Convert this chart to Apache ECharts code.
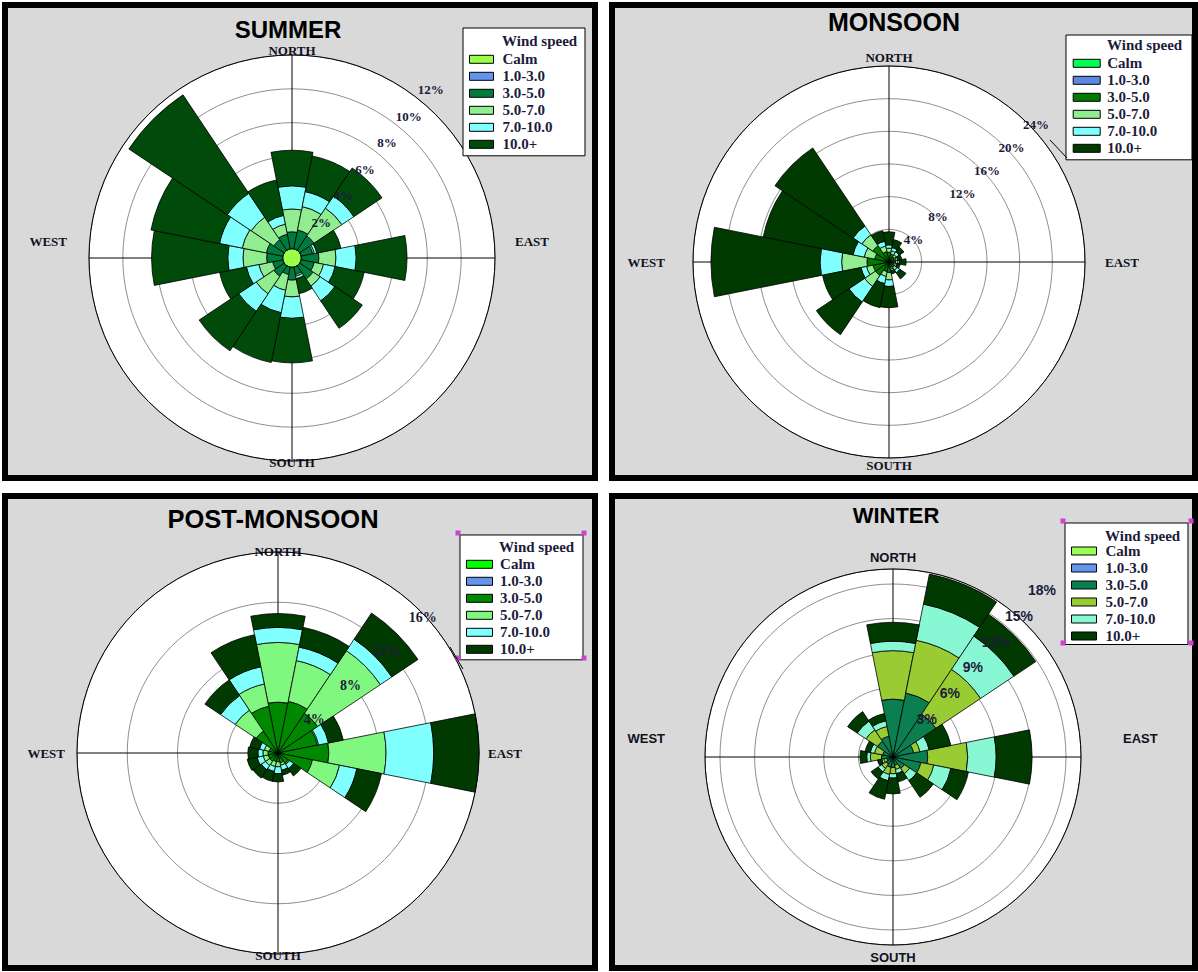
<!DOCTYPE html>
<html>
<head>
<meta charset="utf-8">
<title>Seasonal wind roses</title>
<script src="https://cdn.jsdelivr.net/npm/echarts@6/dist/echarts.min.js"></script>
<style>
  html, body { margin: 0; padding: 0; background: #ffffff; }
  #chart { width: 1198px; height: 972px; }
</style>
</head>
<body>
<div id="chart"></div>
<script>
// ---- categories and labels ----
const directions = ['N', 'NNE', 'NE', 'ENE', 'E', 'ESE', 'SE', 'SSE', 'S', 'SSW', 'SW', 'WSW', 'W', 'WNW', 'NW', 'NNW'];
const compassLabels = ['NORTH', 'EAST', 'SOUTH', 'WEST'];
const speedClasses = ['Calm', '1.0-3.0', '3.0-5.0', '5.0-7.0', '7.0-10.0', '10.0+'];
const seasonTitles = ['SUMMER', 'MONSOON', 'POST-MONSOON', 'WINTER'];
const legendHeading = 'Wind speed';

// ---- frequency of occurrence (%) per direction, N then clockwise ----
const summerCalm = 0.55;
const summer1to3   = [0, 0, 0, 0, 0, 0, 0, 0, 0, 0, 0, 0, 0, 0, 0, 0];
const summer3to5   = [1.00, 1.14, 1.02, 0.70, 1.04, 0.79, 0.95, 0.45, 0.76, 0.45, 0.75, 0.62, 0.95, 1.00, 0.75, 0.88];
const summer5to7   = [1.35, 1.41, 1.98, 0.10, 1.01, 0.56, 0.50, 0.10, 0.99, 0.95, 1.25, 0.83, 1.40, 1.45, 1.60, 0.61];
const summer7to10  = [1.37, 0.90, 0.85, 0.15, 1.20, 0.70, 1.05, 0.15, 1.27, 1.35, 1.25, 0.75, 0.90, 1.37, 1.70, 0.53];
const summer10plus = [2.10, 2.15, 2.00, 1.45, 3.00, 1.75, 1.95, 0.90, 2.63, 3.00, 2.80, 1.61, 4.50, 4.13, 7.00, 2.13];

const monsoonCalm = 0;
const monsoon1to3   = [0, 0, 0, 0, 0, 0, 0, 0, 0, 0, 0, 0, 0, 0, 0, 0];
const monsoon3to5   = [1.2, 1.0, 0.8, 0.7, 0.8, 0.6, 0.8, 0.7, 1.3, 1.2, 2.0, 2.0, 2.7, 1.8, 2.4, 1.3];
const monsoon5to7   = [0.5, 0.4, 0.3, 0.2, 0.3, 0.2, 0.4, 0.2, 0.9, 0.6, 1.6, 0.8, 3.1, 1.3, 1.6, 0.7];
const monsoon7to10  = [0.4, 0.4, 0.4, 0.2, 0.2, 0.2, 0.4, 0.2, 0.8, 0.9, 2.3, 0.7, 2.65, 1.4, 1.3, 0.6];
const monsoon10plus = [1.6, 1.0, 0.7, 0.5, 0.8, 0.4, 0.9, 0.4, 2.6, 3.0, 4.8, 4.8, 13.35, 11.2, 11.5, 1.3];

const postCalm = 0;
const post1to3   = [0, 0, 0, 0, 0, 0, 0, 0, 0, 0, 0, 0, 0, 0, 0, 0];
const post3to5   = [4.05, 4.2, 3.8, 3.2, 4.05, 2.8, 1.0, 0.8, 0.7, 0.7, 0.8, 0.8, 0.8, 0.7, 2.1, 3.8];
const post5to7   = [4.75, 3.3, 6.0, 0.1, 4.55, 2.2, 0.1, 0.2, 0.4, 0.4, 0.4, 0.4, 0.4, 0.4, 2.0, 1.8];
const post7to10  = [1.2, 1.1, 1.1, 0.8, 3.8, 1.4, 0.4, 0.4, 0.55, 0.4, 0.4, 0.5, 0.4, 0.4, 1.4, 1.4];
const post10plus = [1.1, 1.6, 2.5, 1.2, 3.6, 2.0, 0.7, 0.4, 0.65, 0.8, 0.8, 0.8, 0.8, 0.8, 1.5, 2.6];

const winterCalm = 0;
const winter1to3   = [0, 0, 0, 0, 0, 0, 0, 0, 0, 0, 0, 0, 0, 0, 0, 0];
const winter3to5   = [5.02, 5.66, 4.48, 1.83, 3.01, 2.47, 1.19, 0.73, 0.91, 0.91, 0.73, 0.55, 1.00, 0.91, 1.64, 1.83];
const winter5to7   = [4.20, 4.66, 4.66, 0.55, 3.47, 1.14, 0.55, 0.37, 0.55, 0.64, 0.46, 0.27, 0.96, 0.73, 1.19, 0.87];
const winter7to10  = [0.82, 3.20, 3.47, 0.82, 2.47, 1.51, 0.73, 0.37, 0.37, 0.55, 0.37, 0.18, 0.32, 0.37, 0.91, 0.50];
const winter10plus = [1.64, 2.65, 2.28, 1.92, 3.11, 1.55, 1.74, 0.73, 1.37, 1.64, 0.73, 0.37, 0.59, 0.46, 1.00, 0.64];

const seasons = [
  { calm: summerCalm,  classes: [summer1to3, summer3to5, summer5to7, summer7to10, summer10plus] },
  { calm: monsoonCalm, classes: [monsoon1to3, monsoon3to5, monsoon5to7, monsoon7to10, monsoon10plus] },
  { calm: postCalm,    classes: [post1to3, post3to5, post5to7, post7to10, post10plus] },
  { calm: winterCalm,  classes: [winter1to3, winter3to5, winter5to7, winter7to10, winter10plus] }
];

// ---- layout and styling of the four panels ----
const SERIF = '"Liberation Serif", "Times New Roman", serif';
const SANS = '"Liberation Sans", Arial, sans-serif';
const INK = '#1c1c3a';

const looks = [
  { frame: [5, 5, 590, 473], title: { x: 288, y: 17, size: 24 },
    center: [292, 258], radius: 203, max: 12, step: 2,
    tickMax: 12, tickRing: [11.6, 218], tickAngle: 50.5, tickFont: SERIF, tickSize: 13,
    compass: { font: SERIF, size: 13, n: 5, s: 1, e: 20, w: 22, lift: 17 },
    legend: { left: 463, top: 28, pad: [22.8, 32.5, 3, 6], sw: 24, gap: 4, head: [502, 33] },
    colors: ['#99ff44', '#6495ed', '#007a3d', '#90ee90', '#80ffff', '#004a0a'] },
  { frame: [612, 5, 583, 473], title: { x: 894, y: 9, size: 25 },
    center: [889, 262], radius: 196, max: 24, step: 4,
    tickMax: 24, tickRing: [0, 201], tickAngle: 43, tickFont: SERIF, tickSize: 13,
    compass: { font: SERIF, size: 13, n: 9, s: 7, e: 20, w: 28, lift: 0 },
    legend: { left: 1066, top: 35, pad: [19.8, 34.8, 3, 6.7], sw: 27, gap: 2, head: [1107, 37] },
    colors: ['#00ff55', '#5f87e0', '#007a00', '#90ee90', '#80ffff', '#003a00'] },
  { frame: [5, 496, 590, 472], title: { x: 273, y: 506, size: 25.5 },
    center: [278, 753], radius: 201, max: 16, step: 4,
    tickMax: 16, tickRing: [0, 198], tickAngle: 43, tickFont: SERIF, tickSize: 14,
    compass: { font: SERIF, size: 13, n: 1, s: 1, e: 9, w: 12, lift: 0 },
    legend: { left: 460, top: 535, pad: [20.8, 32.9, 2, 6], sw: 26, gap: 2.6, head: [499, 539] },
    colors: ['#00ff00', '#6495ed', '#008800', '#80f880', '#80ffff', '#003a00'] },
  { frame: [612, 496, 583, 472], title: { x: 896, y: 504, size: 22 },
    center: [893, 757], radius: 188, max: 16.3, step: 3,
    tickMax: 18, tickRing: [16, 224], tickAngle: 48.3, tickFont: SANS, tickSize: 14,
    compass: { font: SANS, size: 13, n: 12, s: 12, e: 42, w: 40, lift: 19 },
    legend: { left: 1065, top: 523, pad: [19.5, 32.5, 0, 6], sw: 25, gap: 4, head: [1105, 528] },
    colors: ['#99ff55', '#6495ed', '#0b7f4f', '#99cc33', '#88f7d4', '#003a00'] }
];

const option = {
  animation: false,
  backgroundColor: '#ffffff',
  polar: [], angleAxis: [], radiusAxis: [], series: [], legend: [], title: [], graphic: []
};

const LABEL_MARGIN = -10;
const hiddenParts = {
  axisLine: { show: false }, axisTick: { show: false }, axisLabel: { show: false },
  splitLine: { show: false }, splitArea: { show: false }
};

looks.forEach((lk, i) => {
  const season = seasons[i];
  const base = 4 * i;          // bars, rings, compass, ring labels

  // panel frame
  option.graphic.push({
    type: 'rect', z: -10, silent: true,
    shape: { x: lk.frame[0], y: lk.frame[1], width: lk.frame[2], height: lk.frame[3] },
    style: { fill: '#d9d9d9', stroke: '#000000', lineWidth: 6 }
  });

  option.polar.push({ center: lk.center, radius: lk.radius });
  option.polar.push({ center: lk.center, radius: lk.radius });
  option.polar.push({ center: lk.center, radius: lk.radius });
  option.polar.push({ center: lk.center, radius: lk.tickRing });

  // bars: 16 direction sectors, north centred at the top; white disc and black outer circle
  option.angleAxis.push(Object.assign({}, hiddenParts, {
    polarIndex: base, type: 'category', data: directions, boundaryGap: true,
    startAngle: 90 + 180 / directions.length, clockwise: true, z: 3,
    axisLine: { show: true, lineStyle: { color: '#000000', width: 1 } }
  }));
  option.radiusAxis.push(Object.assign({}, hiddenParts, {
    polarIndex: base, type: 'value', min: 0, max: lk.max, interval: lk.max, z: 1,
    splitArea: { show: true, areaStyle: { color: ['#ffffff'] } }
  }));

  // grey frequency rings
  option.angleAxis.push({ polarIndex: base + 1, type: 'value', min: 0, max: 360, show: false });
  option.radiusAxis.push(Object.assign({}, hiddenParts, {
    polarIndex: base + 1, type: 'value', min: 0, max: lk.max, interval: lk.step, z: 2,
    splitLine: { show: true, lineStyle: { color: '#8f8f8f', width: 1 } }
  }));

  // cross lines and compass names
  const c = lk.compass;
  const half = c.size / 2;
  const sideHeight = c.lift > 0 ? 2 * c.lift : c.size;
  const compassStyles = [
    { padding: [0, 0, Math.max(0, c.n - LABEL_MARGIN - half), 0] },
    { padding: [0, 0, 0, c.e - LABEL_MARGIN], lineHeight: sideHeight },
    { padding: [Math.max(0, c.s - LABEL_MARGIN - half), 0, 0, 0] },
    { padding: [0, c.w - LABEL_MARGIN, 0, 0], lineHeight: sideHeight }
  ];
  option.angleAxis.push(Object.assign({}, hiddenParts, {
    polarIndex: base + 2, type: 'category', boundaryGap: false,
    data: compassLabels.map((name, k) => ({ value: name, textStyle: compassStyles[k] })),
    startAngle: 90, clockwise: true, z: 2,
    axisLabel: {
      show: true, margin: LABEL_MARGIN, fontFamily: c.font, fontWeight: 'bold',
      fontSize: c.size, lineHeight: c.size, color: '#111122',
      // east and west names sit above the horizontal line
      formatter: (name) => (c.lift > 0 && (name === 'EAST' || name === 'WEST')) ? name + '\n' : name
    },
    splitLine: { show: true, lineStyle: { color: '#000000', width: 1 } }
  }));
  option.radiusAxis.push(Object.assign({}, hiddenParts, {
    polarIndex: base + 2, type: 'value', min: 0, max: lk.max
  }));

  // percentage labels along a diagonal
  option.angleAxis.push({ polarIndex: base + 3, type: 'value', min: 0, max: 360, startAngle: lk.tickAngle, show: false });
  option.radiusAxis.push({
    polarIndex: base + 3, type: 'value', min: 0, max: lk.tickMax, interval: lk.step, z: 6,
    axisLine: { show: false }, axisTick: { show: false }, splitLine: { show: false },
    axisLabel: { show: true, margin: 0, align: 'center', verticalAlign: 'middle',
                 showMinLabel: false, formatter: '{value}%', fontFamily: lk.tickFont,
                 fontWeight: 'bold', fontSize: lk.tickSize, color: INK }
  });

  // stacked speed classes, calm at the core
  const stackData = [new Array(directions.length).fill(season.calm)].concat(season.classes);
  stackData.forEach((values, k) => {
    option.series.push({
      type: 'bar', coordinateSystem: 'polar', polarIndex: base,
      name: speedClasses[k], stack: 'rose' + i, data: values,
      barCategoryGap: '0%', z: 4, silent: true,
      itemStyle: k === 0
        ? { color: lk.colors[k], borderColor: lk.colors[k], borderWidth: 0.6 }
        : { color: lk.colors[k], borderColor: '#000000', borderWidth: 0.8 }
    });
  });

  // legend box
  const lg = lk.legend;
  option.legend.push({
    orient: 'vertical', left: lg.left, top: lg.top, padding: lg.pad,
    itemWidth: lg.sw, itemHeight: 8, itemGap: 0, icon: 'rect', selectedMode: false,
    backgroundColor: '#ffffff', borderColor: '#000000', borderWidth: 1, z: 8,
    textStyle: { fontFamily: SERIF, fontWeight: 'bold', fontSize: 15, lineHeight: 17,
                 color: INK, padding: [0, 0, 0, lg.gap] },
    data: speedClasses.map((name, k) => ({
      name: name,
      itemStyle: { color: lk.colors[k], borderColor: '#000000', borderWidth: 1 }
    }))
  });
  option.title.push({
    text: legendHeading, left: lg.head[0], top: lg.head[1], padding: 0, z: 9,
    textStyle: { fontFamily: SERIF, fontWeight: 'bold', fontSize: 15, lineHeight: 16, color: INK }
  });

  // season heading
  option.title.push({
    text: seasonTitles[i], left: lk.title.x, top: lk.title.y, textAlign: 'center', padding: 0, z: 9,
    textStyle: { fontFamily: SANS, fontWeight: 'bold', fontSize: lk.title.size,
                 lineHeight: lk.title.size, color: '#000000' }
  });
});

// selection handles on two legend boxes and leader lines
const handleCorners = [
  [458, 533], [584, 533], [458, 658], [584, 658],
  [1063, 521], [1191, 521], [1063, 643], [1191, 643]
];
handleCorners.forEach(p => {
  option.graphic.push({
    type: 'rect', z: 20, silent: true,
    shape: { x: p[0] - 2.5, y: p[1] - 2.5, width: 5, height: 5 },
    style: { fill: '#cc44cc' }
  });
});
option.graphic.push({ type: 'line', z: 20, silent: true,
  shape: { x1: 1050, y1: 140, x2: 1067, y2: 158 }, style: { stroke: '#000', lineWidth: 1 } });
option.graphic.push({ type: 'line', z: 20, silent: true,
  shape: { x1: 450, y1: 647, x2: 463, y2: 669 }, style: { stroke: '#000', lineWidth: 1 } });

const chart = echarts.init(document.getElementById('chart'), null, { renderer: 'svg' });
chart.setOption(option);
</script>
</body>
</html>
